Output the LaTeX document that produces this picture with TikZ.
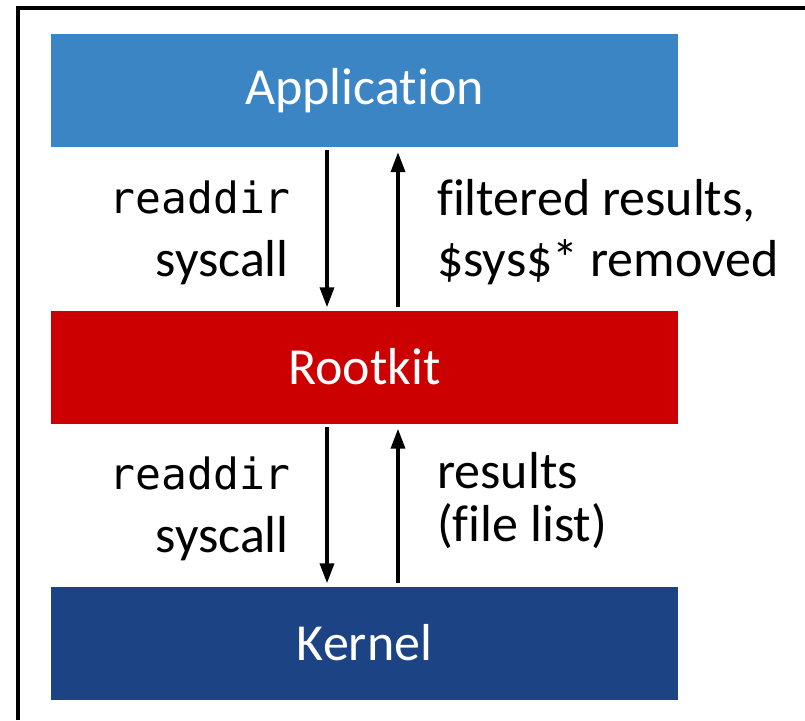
\documentclass[tikz,border=0pt]{standalone}
\usepackage{fontspec}
\setmainfont{Carlito}[Ligatures={NoCommon}]
\newfontfamily\codefont{DejaVu Sans Mono}
\usetikzlibrary{arrows.meta}
\definecolor{appblue}{HTML}{3C85C5}
\definecolor{rkred}{HTML}{CC0000}
\definecolor{kernblue}{HTML}{1C4484}
\tikzset{
  layer/.style={draw=none, minimum width=627pt, minimum height=113pt, inner sep=0pt,
    text=white, font=\fontsize{52}{62}\selectfont},
  lbl/.style={inner sep=0pt, font=\fontsize{52}{62}\selectfont},
  code/.style={inner sep=0pt, font=\codefont\fontsize{43}{50}\selectfont},
  flow/.style={line width=3.5pt, -{Triangle[length=20pt,width=14pt]}},
  frame/.style={line width=4pt}
}
\begin{document}
\begin{tikzpicture}[x=1pt,y=-1pt]
\useasboundingbox (0,0) rectangle (805,720);
\coordinate (fbl) at (18,720);
\coordinate (ftl) at (18,8);
\coordinate (ftr) at (805,8);
\draw[frame] (fbl) -- (ftl) -- (ftr);

\node[layer, fill=appblue] (app) at (364.5,90.5) {Application};
\node[layer, fill=rkred] (rk) at (364.5,367) {Rootkit};
\node[layer, fill=kernblue] (kern) at (364.5,643) {Kernel};

\coordinate (dx) at (327,0);
\coordinate (ux) at (398,0);

\draw[flow, shorten <=3pt, shorten >=3pt] (app.south -| dx) -- (rk.north -| dx);
\draw[flow, shorten <=3pt, shorten >=5pt] (rk.north -| ux) -- (app.south -| ux);
\draw[flow, shorten <=3pt, shorten >=3pt] (rk.south -| dx) -- (kern.north -| dx);
\draw[flow, shorten <=3pt, shorten >=5pt] (kern.north -| ux) -- (rk.south -| ux);

\node[code, anchor=base east] (l1a) at (291,213) {readdir};
\node[lbl, anchor=base east] (l1b) at (289,276) {syscall};
\node[lbl, anchor=base west] (r1a) at (437,215) {filtered results,};
\node[lbl, anchor=base west] (r1b) at (437,276) {\$sys\$* removed};

\node[code, anchor=base east] (l2a) at (291,489) {readdir};
\node[lbl, anchor=base east] (l2b) at (289,552) {syscall};
\node[lbl, anchor=base west] (r2a) at (437,488) {results};
\node[lbl, anchor=base west] (r2b) at (437,541) {(file list)};
\end{tikzpicture}
\end{document}
